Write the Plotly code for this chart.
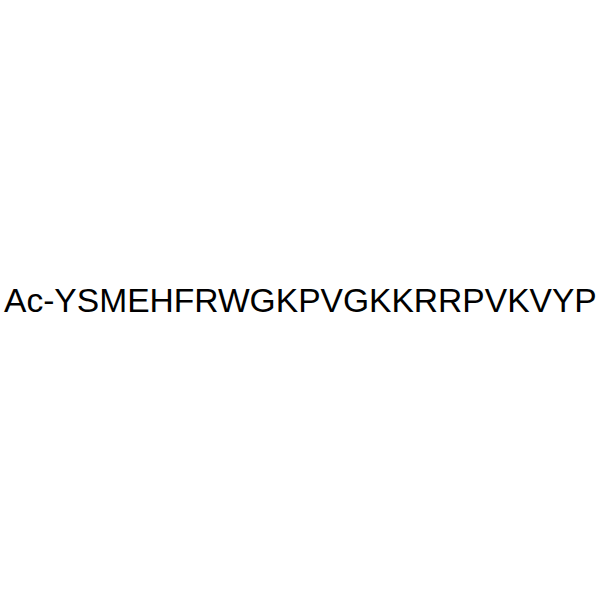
import plotly.graph_objects as go

# peptide sequence shown as the only content of the picture
label = "Ac-YSMEHFRWGKPVGKKRRPVKVYP"

fig = go.Figure()
fig.add_annotation(
    text=label,
    x=0.5,
    y=0.5,
    xref="paper",
    yref="paper",
    showarrow=False,
    font=dict(family="Liberation Sans, Arial", size=33.6, color="black"),
)
fig.update_xaxes(visible=False)
fig.update_yaxes(visible=False)
fig.update_layout(
    width=600,
    height=600,
    margin=dict(l=0, r=0, t=0, b=0),
    plot_bgcolor="white",
    paper_bgcolor="white",
    showlegend=False,
)
# drop the page's default body margin so the figure sits at the window's corner
fig.write_html(
    "out.html",
    config={"displayModeBar": False},
    post_script="document.body.style.margin='0';",
)
